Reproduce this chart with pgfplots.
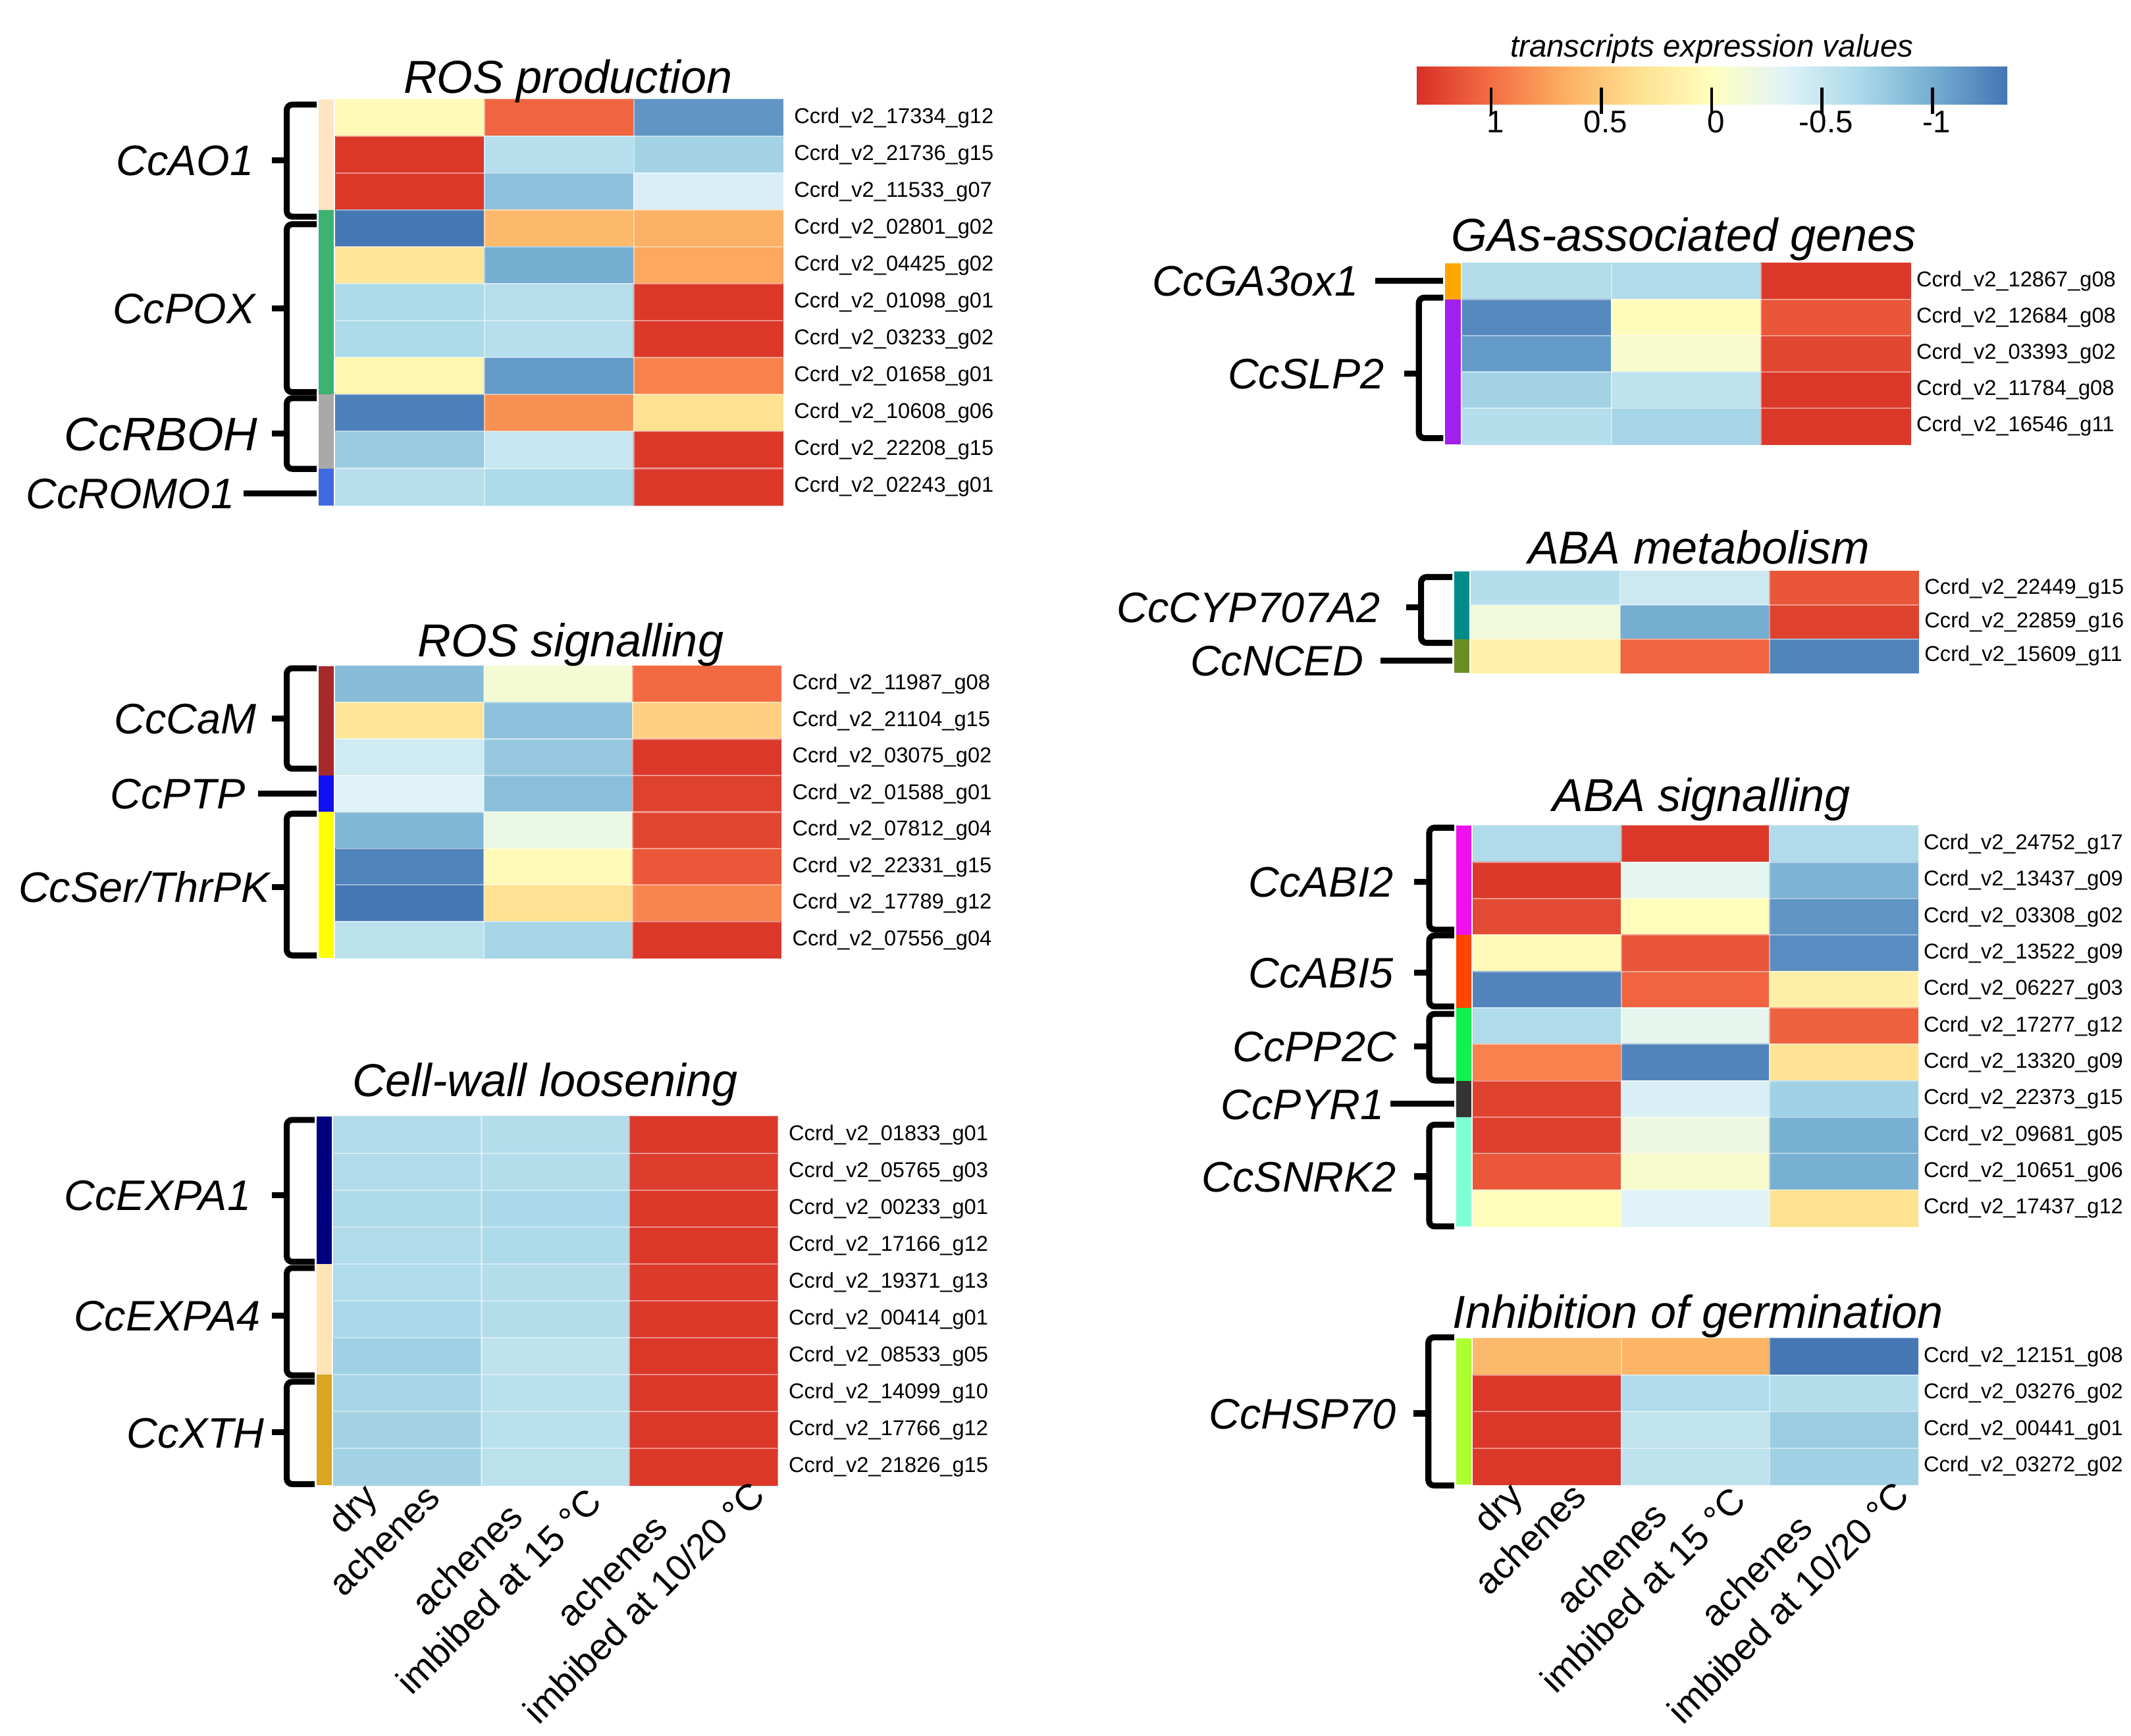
\documentclass[border=0pt]{standalone}
\usepackage{fontspec}
\setmainfont{Liberation Sans}
\usepackage{pgfplots}
\pgfplotsset{compat=1.18}

\newcommand\gene{\fontsize{7.9}{9.5}\selectfont}
\newcommand\grp{\fontsize{15.7}{18.8}\selectfont\itshape}
\newcommand\grpbig{\fontsize{17.3}{20.8}\selectfont\itshape}
\newcommand\ttl{\fontsize{17}{20.4}\selectfont\itshape}
\newcommand\collab{\fontsize{13.5}{16.6}\selectfont}
\newcommand\cbf{\fontsize{11.5}{13.8}\selectfont}

% group colours
\definecolor{cAO}{HTML}{FFE4C4}
\definecolor{cPOX}{HTML}{3CB371}
\definecolor{cRBOH}{HTML}{A9A9A9}
\definecolor{cROMO}{HTML}{4169E1}
\definecolor{cCaM}{HTML}{A52A2A}
\definecolor{cPTP}{HTML}{1010F5}
\definecolor{cSer}{HTML}{FFFF00}
\definecolor{cEXPA1}{HTML}{000080}
\definecolor{cEXPA4}{HTML}{FFE4B5}
\definecolor{cXTH}{HTML}{DAA520}
\definecolor{cGA}{HTML}{FFA500}
\definecolor{cSLP}{HTML}{A020F0}
\definecolor{cCYP}{HTML}{008B8B}
\definecolor{cNCED}{HTML}{6B8E23}
\definecolor{cABI2}{HTML}{EE11EE}
\definecolor{cABI5}{HTML}{FF4500}
\definecolor{cPP2C}{HTML}{11F24E}
\definecolor{cPYR}{HTML}{333333}
\definecolor{cSNRK}{HTML}{7FFFD4}
\definecolor{cHSP}{HTML}{ADFF2F}

\pgfplotsset{
  colormap={rdylbu}{rgb255=(69,117,180) rgb255=(116,173,209) rgb255=(171,217,233)
    rgb255=(224,243,248) rgb255=(255,255,191) rgb255=(254,224,144)
    rgb255=(253,174,97) rgb255=(244,109,67) rgb255=(215,48,39)},
  heat/.style={
    scale only axis, anchor=north west,
    xmin=-0.5, xmax=2.5, y dir=reverse,
    axis line style={draw=none},
    major tick length=0pt,
    xtick=\empty,
    yticklabel pos=right,
    yticklabel style={font=\gene, anchor=west, inner sep=0pt},
    colormap name=rdylbu,
    point meta min=-1.34, point meta max=1.34,
    clip=false,
  },
}
\tikzset{
  sep/.style={white, line width=0.5pt, opacity=0.45},
  bk/.style={line width=2.2pt, rounded corners=2pt},
}
% faint cell borders
\newcommand\grid[2]{%
  \pgfplotsinvokeforeach{0.5,1.5}{\draw[sep] (axis cs:##1,-0.5) -- (axis cs:##1,#2);}%
  \pgfplotsinvokeforeach{#1}{\draw[sep] (axis cs:-0.5,##1) -- (axis cs:2.5,##1);}%
}
% colour strip of a gene group
\newcommand\strip[3]{\fill[#1] (axis cs:-0.615,#2) rectangle (axis cs:-0.511,#3);}
% bracket: x of stem, x of arms, top, bottom, middle
\newcommand\brk[5]{%
  \draw[bk] (#2,#3) -- (#1,#3) -- (#1,#4) -- (#2,#4);
  \draw[line width=2.2pt] (#1,#5) -- ({#1-11},#5);}

\begin{document}
\begin{tikzpicture}[x=0.5pt, y=-0.5pt]

% ---------------- ROS production ----------------
\begin{axis}[heat, at={(123.5pt,-36.6pt)}, width=164.5pt, height=149.3pt,
  ymin=-0.5, ymax=10.5, ytick={0,...,10}, yticklabel style={xshift=4pt},
  yticklabels={Ccrd\_v2\_17334\_g12, Ccrd\_v2\_21736\_g15, Ccrd\_v2\_11533\_g07,
    Ccrd\_v2\_02801\_g02, Ccrd\_v2\_04425\_g02, Ccrd\_v2\_01098\_g01,
    Ccrd\_v2\_03233\_g02, Ccrd\_v2\_01658\_g01, Ccrd\_v2\_10608\_g06,
    Ccrd\_v2\_22208\_g15, Ccrd\_v2\_02243\_g01}]
\addplot[matrix plot*, mesh/cols=3, point meta=explicit] table[meta=c] {
x y c
0 0 0.05
1 0 1.05
2 0 -1.15
0 1 1.3
1 1 -0.6
2 1 -0.72
0 2 1.3
1 2 -0.85
2 2 -0.38
0 3 -1.33
1 3 0.6
2 3 0.65
0 4 0.28
1 4 -1.0
2 4 0.7
0 5 -0.65
1 5 -0.6
2 5 1.3
0 6 -0.65
1 6 -0.6
2 6 1.3
0 7 0.1
1 7 -1.12
2 7 0.9
0 8 -1.28
1 8 0.82
2 8 0.33
0 9 -0.78
1 9 -0.5
2 9 1.3
0 10 -0.6
1 10 -0.65
2 10 1.3
};
\grid{0.5,1.5,...,9.5}{10.5}
\strip{cAO}{-0.5}{2.5}
\strip{cPOX}{2.5}{7.5}
\strip{cRBOH}{7.5}{9.5}
\strip{cROMO}{9.5}{10.5}
\end{axis}

% ---------------- ROS signalling ----------------
\begin{axis}[heat, at={(123.5pt,-245pt)}, width=163.8pt, height=107.5pt,
  ymin=-0.5, ymax=7.5, ytick={0,...,7}, yticklabel style={xshift=4pt},
  yticklabels={Ccrd\_v2\_11987\_g08, Ccrd\_v2\_21104\_g15, Ccrd\_v2\_03075\_g02,
    Ccrd\_v2\_01588\_g01, Ccrd\_v2\_07812\_g04, Ccrd\_v2\_22331\_g15,
    Ccrd\_v2\_17789\_g12, Ccrd\_v2\_07556\_g04}]
\addplot[matrix plot*, mesh/cols=3, point meta=explicit] table[meta=c] {
x y c
0 0 -0.88
1 0 -0.12
2 0 1.02
0 1 0.27
1 1 -0.85
2 1 0.45
0 2 -0.45
1 2 -0.8
2 2 1.3
0 3 -0.33
1 3 -0.87
2 3 1.25
0 4 -0.93
1 4 -0.22
2 4 1.22
0 5 -1.25
1 5 0.05
2 5 1.12
0 6 -1.33
1 6 0.32
2 6 0.88
0 7 -0.57
1 7 -0.7
2 7 1.3
};
\grid{0.5,1.5,...,6.5}{7.5}
\strip{cCaM}{-0.5}{2.5}
\strip{cPTP}{2.5}{3.5}
\strip{cSer}{3.5}{7.5}
\end{axis}

% ---------------- Cell-wall loosening ----------------
\begin{axis}[heat, at={(122.75pt,-410.8pt)}, width=163.25pt, height=135.7pt,
  ymin=-0.5, ymax=9.5, ytick={0,...,9}, yticklabel style={xshift=4pt},
  yticklabels={Ccrd\_v2\_01833\_g01, Ccrd\_v2\_05765\_g03, Ccrd\_v2\_00233\_g01,
    Ccrd\_v2\_17166\_g12, Ccrd\_v2\_19371\_g13, Ccrd\_v2\_00414\_g01,
    Ccrd\_v2\_08533\_g05, Ccrd\_v2\_14099\_g10, Ccrd\_v2\_17766\_g12,
    Ccrd\_v2\_21826\_g15}]
\addplot[matrix plot*, mesh/cols=3, point meta=explicit] table[meta=c] {
x y c
0 0 -0.64
1 0 -0.62
2 0 1.3
0 1 -0.64
1 1 -0.62
2 1 1.27
0 2 -0.65
1 2 -0.67
2 2 1.3
0 3 -0.64
1 3 -0.65
2 3 1.3
0 4 -0.64
1 4 -0.62
2 4 1.28
0 5 -0.67
1 5 -0.62
2 5 1.3
0 6 -0.74
1 6 -0.55
2 6 1.3
0 7 -0.7
1 7 -0.58
2 7 1.3
0 8 -0.72
1 8 -0.58
2 8 1.3
0 9 -0.72
1 9 -0.57
2 9 1.3
};
\grid{0.5,1.5,...,8.5}{9.5}
\strip{cEXPA1}{-0.5}{3.5}
\strip{cEXPA4}{3.5}{6.5}
\strip{cXTH}{6.5}{9.5}
\end{axis}

% ---------------- GAs-associated genes ----------------
\begin{axis}[heat, at={(538pt,-96.8pt)}, width=164.85pt, height=66.7pt,
  ymin=-0.5, ymax=4.5, ytick={0,...,4}, yticklabel style={xshift=2pt},
  yticklabels={Ccrd\_v2\_12867\_g08, Ccrd\_v2\_12684\_g08, Ccrd\_v2\_03393\_g02,
    Ccrd\_v2\_11784\_g08, Ccrd\_v2\_16546\_g11}]
\addplot[matrix plot*, mesh/cols=3, point meta=explicit] table[meta=c] {
x y c
0 0 -0.62
1 0 -0.64
2 0 1.3
0 1 -1.22
1 1 0.03
2 1 1.13
0 2 -1.12
1 2 -0.08
2 2 1.22
0 3 -0.72
1 3 -0.55
2 3 1.3
0 4 -0.61
1 4 -0.7
2 4 1.3
};
\grid{0.5,1.5,...,3.5}{4.5}
\strip{cGA}{-0.5}{0.5}
\strip{cSLP}{0.5}{4.5}
\end{axis}

% ---------------- ABA metabolism ----------------
\begin{axis}[heat, at={(541.3pt,-210.3pt)}, width=164.55pt, height=37.15pt,
  ymin=-0.5, ymax=2.5, ytick={0,...,2}, yticklabel style={xshift=2pt},
  yticklabels={Ccrd\_v2\_22449\_g15, Ccrd\_v2\_22859\_g16, Ccrd\_v2\_15609\_g11}]
\addplot[matrix plot*, mesh/cols=3, point meta=explicit] table[meta=c] {
x y c
0 0 -0.61
1 0 -0.46
2 0 1.13
0 1 -0.16
1 1 -1.0
2 1 1.25
0 2 0.15
1 2 1.05
2 2 -1.25
};
\grid{0.5,1.5}{2.5}
\strip{cCYP}{-0.5}{1.5}
\strip{cNCED}{1.5}{2.5}
\end{axis}

% ---------------- ABA signalling ----------------
\begin{axis}[heat, at={(542pt,-303.8pt)}, width=163.5pt, height=147.4pt,
  ymin=-0.5, ymax=10.5, ytick={0,...,10}, yticklabel style={xshift=2pt},
  yticklabels={Ccrd\_v2\_24752\_g17, Ccrd\_v2\_13437\_g09, Ccrd\_v2\_03308\_g02,
    Ccrd\_v2\_13522\_g09, Ccrd\_v2\_06227\_g03, Ccrd\_v2\_17277\_g12,
    Ccrd\_v2\_13320\_g09, Ccrd\_v2\_22373\_g15, Ccrd\_v2\_09681\_g05,
    Ccrd\_v2\_10651\_g06, Ccrd\_v2\_17437\_g12}]
\addplot[matrix plot*, mesh/cols=3, point meta=explicit] table[meta=c] {
x y c
0 0 -0.64
1 0 1.3
2 0 -0.64
0 1 1.3
1 1 -0.28
2 1 -0.95
0 2 1.2
1 2 0.02
2 2 -1.15
0 3 0.05
1 3 1.13
2 3 -1.2
0 4 -1.25
1 4 1.05
2 4 0.18
0 5 -0.64
1 5 -0.27
2 5 1.07
0 6 0.9
1 6 -1.25
2 6 0.3
0 7 1.25
1 7 -0.38
2 7 -0.73
0 8 1.26
1 8 -0.2
2 8 -0.98
0 9 1.12
1 9 -0.08
2 9 -0.98
0 10 0.02
1 10 -0.33
2 10 0.33
};
\grid{0.5,1.5,...,9.5}{10.5}
\strip{cABI2}{-0.5}{2.5}
\strip{cABI5}{2.5}{4.5}
\strip{cPP2C}{4.5}{6.5}
\strip{cPYR}{6.5}{7.5}
\strip{cSNRK}{7.5}{10.5}
\end{axis}

% ---------------- Inhibition of germination ----------------
\begin{axis}[heat, at={(542pt,-492.45pt)}, width=163.5pt, height=53.7pt,
  ymin=-0.5, ymax=3.5, ytick={0,...,3}, yticklabel style={xshift=2pt},
  yticklabels={Ccrd\_v2\_12151\_g08, Ccrd\_v2\_03276\_g02, Ccrd\_v2\_00441\_g01,
    Ccrd\_v2\_03272\_g02}]
\addplot[matrix plot*, mesh/cols=3, point meta=explicit] table[meta=c] {
x y c
0 0 0.6
1 0 0.63
2 0 -1.33
0 1 1.3
1 1 -0.64
2 1 -0.62
0 2 1.3
1 2 -0.53
2 2 -0.77
0 3 1.3
1 3 -0.55
2 3 -0.74
};
\grid{0.5,1.5,2.5}{3.5}
\strip{cHSP}{-0.5}{3.5}
\end{axis}

% ---------------- colour key ----------------
\begin{axis}[at={(521pt,-24.5pt)}, anchor=north west,
  scale only axis, width=217.5pt, height=13.8pt,
  hide axis, xmin=0, xmax=1, ymin=0, ymax=1,
  colormap name=rdylbu, point meta min=-1.34, point meta max=1.34,
  colorbar horizontal, colorbar/width=13.8pt,
  colorbar shift/.style={},
  colorbar style={
    at={(parent axis.north west)}, anchor=north west,
    x dir=reverse,
    axis line style={draw=none},
    xtick={-1,-0.5,0,0.5,1},
    xticklabels={-1,-0.5,0,0.5,1},
    xtick pos=left, xtick align=center, major tick length=9.75pt,
    xtick style={line width=1.1pt, black, yshift=1.2pt},
    xticklabel style={font=\cbf, inner sep=0pt, yshift=2.5pt, xshift=1.5pt},
    title={\itshape transcripts expression values},
    title style={font=\cbf, at={(0.5,1)}, anchor=base, yshift=-2.5pt, inner sep=0pt},
  }]
\addplot[draw=none] coordinates {(0,0)};
\end{axis}

% ---------------- titles ----------------
\node[anchor=base, font=\ttl, inner sep=0pt] at (418,68.7) {ROS production};
\node[anchor=base, font=\ttl, inner sep=0pt] at (420,483) {ROS signalling};
\node[anchor=base, font=\ttl, inner sep=0pt] at (401,807) {Cell-wall loosening};
\node[anchor=base, font=\ttl, inner sep=0pt] at (1239,185) {GAs-associated genes};
\node[anchor=base, font=\ttl, inner sep=0pt] at (1250,415) {ABA metabolism};
\node[anchor=base, font=\ttl, inner sep=0pt] at (1252,597) {ABA signalling};
\node[anchor=base, font=\ttl, inner sep=0pt] at (1249.5,977.2) {Inhibition of germination};

% ---------------- brackets and group names ----------------
\brk{211}{233}{77}{159.4}{118}
\brk{211}{233}{165}{288.6}{227}
\brk{211}{233}{293}{345}{319}
\draw[line width=2.2pt] (179,363) -- (233,363);
\brk{211}{233}{491.7}{565.6}{528.7}
\draw[line width=2.2pt] (190,583.8) -- (233,583.8);
\brk{211}{233}{598.7}{703}{652.6}
\brk{211}{231.5}{824}{928.4}{879.6}
\brk{211}{231.5}{933}{1012}{968}
\brk{211}{231.5}{1016.7}{1092}{1054}
\draw[line width=2.2pt] (1012,206.7) -- (1062,206.7);
\brk{1044}{1062}{219}{322.4}{275}
\brk{1045.6}{1068.6}{424.6}{473}{447}
\draw[line width=2.2pt] (1016,486) -- (1068.6,486);
\brk{1051.6}{1070}{609}{684}{649}
\brk{1051.6}{1070}{688.3}{740.6}{715.5}
\brk{1051.6}{1070}{746}{795}{770}
\draw[line width=2.2pt] (1023,812.3) -- (1070,812.3);
\brk{1051.6}{1070}{827.5}{902.4}{865.6}
\brk{1051}{1070}{984}{1093}{1040}

\begin{scope}[every node/.style={anchor=base east, font=\grp, inner sep=0pt}]
\node at (187,129.2) {CcAO1};
\node at (188,238.2) {CcPOX};
\node[font=\grpbig] at (190,331.4) {CcRBOH};
\node at (173,374.2) {CcROMO1};
\node at (189,539.9) {CcCaM};
\node at (181,595) {CcPTP};
\node at (199,663.8) {CcSer/ThrPK};
\node at (185,890.8) {CcEXPA1};
\node at (192,979.2) {CcEXPA4};
\node at (195,1065.2) {CcXTH};
\node at (1000,217.9) {CcGA3ox1};
\node at (1019,286.2) {CcSLP2};
\node at (1016,458.2) {CcCYP707A2};
\node at (1003.6,497.2) {CcNCED};
\node at (1025.5,660.2) {CcABI2};
\node at (1025.5,726.7) {CcABI5};
\node at (1027.8,781.2) {CcPP2C};
\node at (1019,823.5) {CcPYR1};
\node at (1027.8,876.8) {CcSNRK2};
\node at (1027.8,1051.2) {CcHSP70};
\end{scope}

% ---------------- sample names ----------------
\begin{scope}[every node/.style={rotate=45, anchor=north east, align=center, font=\collab, inner sep=0pt}]
\node at (288,1066) {dry\\achenes};
\node at (407,1069) {achenes\\imbibed at 15 °C};
\node at (527,1064) {achenes\\imbibed at 10/20 °C};
\node at (1131,1065) {dry\\achenes};
\node at (1249,1068) {achenes\\imbibed at 15 °C};
\node at (1369,1064) {achenes\\imbibed at 10/20 °C};
\end{scope}

\pgfresetboundingbox
\path[use as bounding box] (0,0) rectangle (1568,1277);
\end{tikzpicture}
\end{document}
